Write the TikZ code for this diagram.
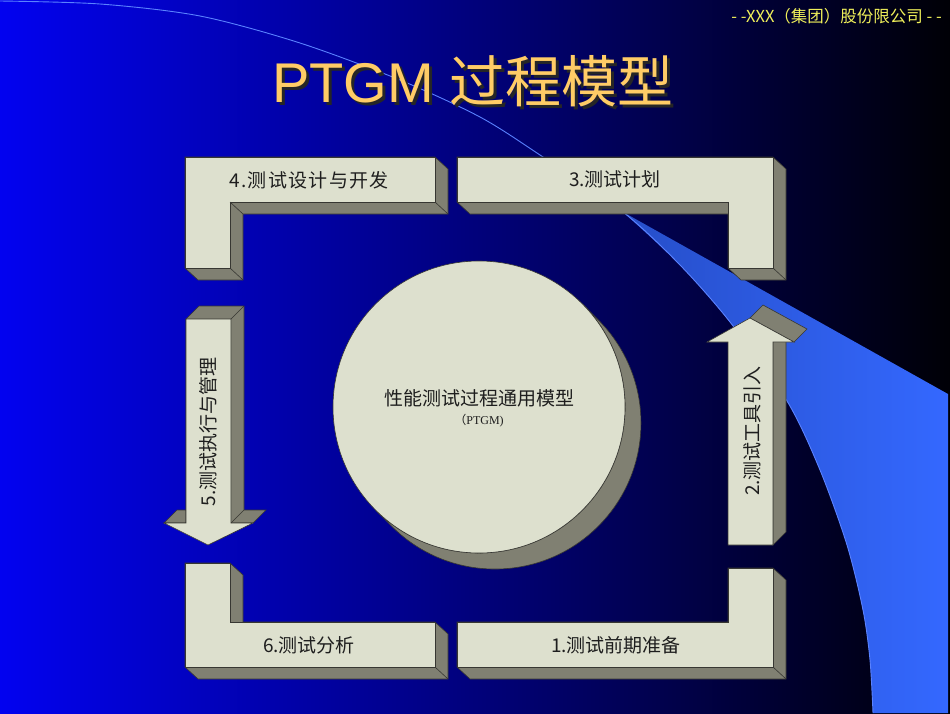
\documentclass[tikz,border=0pt]{standalone}
\usepackage{fontspec}
\setmainfont{Liberation Serif}
\newfontfamily\cjk{Noto Sans CJK SC}
\newfontfamily\cjkwide{Noto Sans CJK SC}[LetterSpace=7]
\newfontfamily\arialfont{Liberation Sans}
\definecolor{bgleft}{RGB}{2,2,240}
\definecolor{bgmid}{RGB}{0,0,135}
\definecolor{bgright}{RGB}{0,0,6}
\definecolor{bandleft}{RGB}{38,78,200}
\definecolor{bandright}{RGB}{52,104,255}
\definecolor{swoosh}{RGB}{90,130,255}
\definecolor{slabface}{RGB}{221,224,206}
\definecolor{slabside}{RGB}{128,128,114}
\definecolor{slabedge}{RGB}{55,55,50}
\definecolor{labeltext}{RGB}{30,30,30}
\definecolor{titlegold}{RGB}{255,204,102}
\definecolor{headyellow}{RGB}{240,240,90}
\usetikzlibrary{positioning}

\begin{document}
\begin{tikzpicture}[x=1pt,y=-1pt,
  face/.style={fill=slabface,draw=slabedge,line width=0.6pt},
  side/.style={fill=slabside,draw=slabedge,line width=0.6pt},
  rim/.style={draw=slabedge,line width=0.6pt},
  lbl/.style={font=\cjk\fontsize{19}{19}\selectfont,text=labeltext,inner sep=0pt}]
\useasboundingbox (0,0) rectangle (950,713);
\shade[left color=bgleft,middle color=bgmid,right color=bgright] (0,0) rectangle (950,713);

\shade[left color=bandleft,right color=bandright] (623,212) -- (948,394) -- (948,713) -- (873,713)
  -- plot[smooth] coordinates {(873,713) (870,660) (863,610) (847,545) (820,470) (787,401) (730,322) (680,265) (623,212)} -- cycle;
\draw[swoosh,line width=0.9pt] plot[smooth] coordinates {(0,1) (100,4) (200,16) (300,43) (400,80) (480,117) (540,155) (623,212) (680,265) (730,322) (787,401) (820,470) (847,545) (863,610) (870,660) (873,713)};

\node[font=\cjk\fontsize{16.5}{16.5}\selectfont,text=headyellow,anchor=east,inner sep=0pt] (header) at (942,16) {- -XXX（集团）股份限公司 - -};
\node[font=\fontsize{56}{60}\selectfont,text=titlegold,anchor=base west,inner sep=0pt] (title) at (272,102)
  {\makebox[0pt][l]{\hspace{3pt}\raisebox{-3pt}{\color{black!85}\arialfont PTGM \cjk 过程模型}}\arialfont PTGM \cjk 过程模型};

\filldraw[side] (185,157) -- (435,157) -- (448,169) -- (448,214) -- (243,214) -- (243,280) -- (198,280) -- (185,268) -- cycle;
\filldraw[face] (185,157) -- (435,157) -- (435,202) -- (230,202) -- (230,268) -- (185,268) -- cycle;
\draw[rim] (435,202) -- (448,214);
\draw[rim] (230,202) -- (243,214);
\draw[rim] (230,268) -- (243,280);

\filldraw[side] (457,157) -- (773,157) -- (786,169) -- (786,280) -- (741,280) -- (728,268) -- (728,214) -- (470,214) -- (457,202) -- cycle;
\filldraw[face] (457,157) -- (773,157) -- (773,268) -- (728,268) -- (728,202) -- (457,202) -- cycle;
\draw[rim] (773,268) -- (786,280);

\filldraw[side] (185,563) -- (230,563) -- (243,575) -- (243,622) -- (435,622) -- (448,634) -- (448,679) -- (198,679) -- (185,667) -- cycle;
\filldraw[face] (185,563) -- (230,563) -- (230,622) -- (435,622) -- (435,667) -- (185,667) -- cycle;
\draw[rim] (435,667) -- (448,679);

\filldraw[side] (728,568) -- (773,568) -- (786,580) -- (786,679) -- (470,679) -- (457,667) -- (457,622) -- (728,622) -- cycle;
\filldraw[face] (728,568) -- (773,568) -- (773,667) -- (457,667) -- (457,622) -- (728,622) -- cycle;
\draw[rim] (773,667) -- (786,679);

\filldraw[side] (186,319) -- (199,306) -- (244,306) -- (244,510) -- (266,510) -- (253,523) -- (186,523) -- cycle;
\filldraw[side] (164,523) -- (177,510) -- (186,510) -- (186,523) -- cycle;
\filldraw[face] (186,319) -- (231,319) -- (231,523) -- (253,523) -- (208,545) -- (164,523) -- (186,523) -- cycle;
\draw[rim] (231,319) -- (244,306);
\draw[rim] (231,523) -- (244,510);

\filldraw[side] (773,545) -- (786,532) -- (786,329) -- (773,342) -- cycle;
\filldraw[side] (750,318) -- (763,305) -- (807,329) -- (794,342) -- cycle;
\filldraw[face] (728,545) -- (773,545) -- (773,342) -- (794,342) -- (750,318) -- (707,342) -- (728,342) -- cycle;

\filldraw[side] (598.2,319.8) arc[start angle=-45,end angle=135,radius=146] -- (375.8,510.2) arc[start angle=135,end angle=-45,radius=146] -- cycle;
\node[circle,fill=slabface,draw=slabedge,line width=0.6pt,minimum size=292pt,inner sep=0pt] (core) at (479,407) {};
\node[font=\cjk\fontsize{19}{19}\selectfont,text=labeltext,inner sep=0pt] (coretitle) at (479,398) {性能测试过程通用模型};
\node[font=\fontsize{12}{12}\selectfont,text=labeltext,inner sep=0pt,below=7pt of coretitle] (coresub) {{\cjk （}PTGM)};

\node[lbl] (prep) at (616,645) {1.测试前期准备};
\node[lbl,rotate=90] (tools) at (752,431) {2.测试工具引入};
\node[lbl] (plan) at (615,179) {3.测试计划};
\node[lbl,font=\cjkwide\fontsize{19}{19}\selectfont] (design) at (309,180) {4.测试设计与开发};
\node[lbl,rotate=90] (exec) at (208,432) {5.测试执行与管理};
\node[lbl] (analysis) at (309,645) {6.测试分析};
\end{tikzpicture}
\end{document}
